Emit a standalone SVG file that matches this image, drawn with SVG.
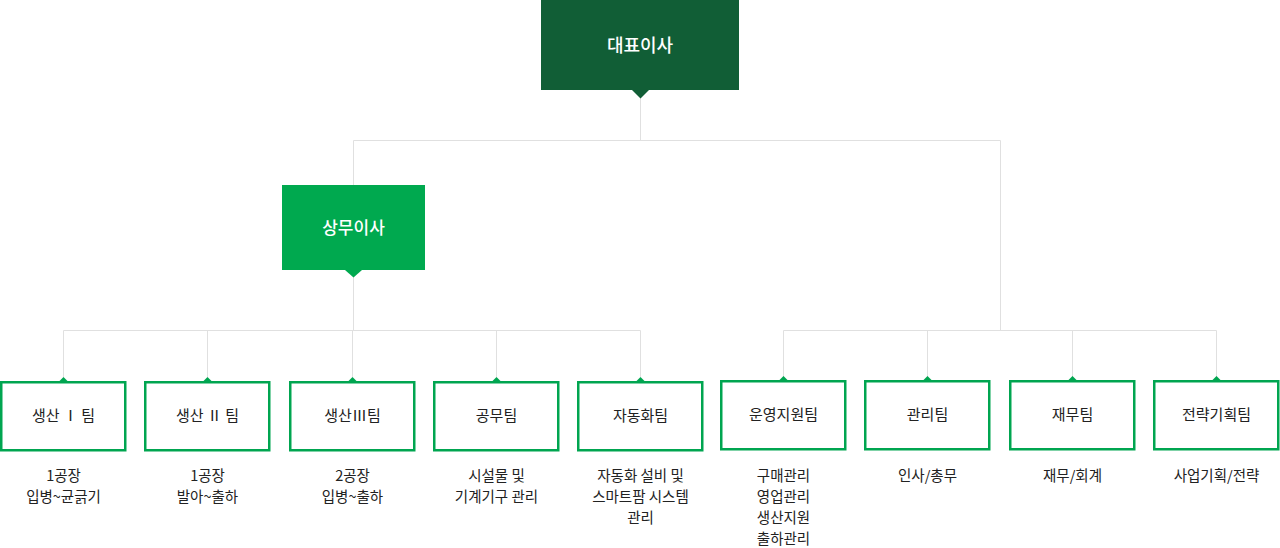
<svg xmlns="http://www.w3.org/2000/svg" width="1280" height="548" viewBox="0 0 1280 548">
<style>
text{font-family:"Noto Sans CJK KR","Noto Sans",sans-serif;text-anchor:middle}
.ln{stroke:#e0e0e0;stroke-width:1;fill:none}
.team rect{fill:#fff;stroke:#00a550;stroke-width:2.5}
.team path{fill:#00a550}
.tl{font-size:15px;fill:#222}
.ds{font-size:14.5px;fill:#222}
.exec{font-size:18px;fill:#fff;font-weight:500}
</style>
<rect width="1280" height="548" fill="#fff"/>
<g id="connectors">
<path class="ln" d="M640.5 98V140.5M353.5 140.5H1000.5M353.5 140.5V185M1000.5 140.5V330.5M353.5 277V330.5M63.5 330.5H640.5M783.5 330.5H1216.5"/>
<path class="ln" d="M63.5 330.5V377M207.5 330.5V377M352.5 330.5V377M496.5 330.5V377M640.5 330.5V377M783.5 330.5V377M927.5 330.5V377M1072.5 330.5V377M1216.5 330.5V377"/>
</g>
<g id="ceo">
<rect x="541" y="0" width="198" height="90" fill="#115e36"/>
<path d="M632 90L640.5 98.5L649 90Z" fill="#115e36"/>
<text class="exec" x="640" y="51.5">대표이사</text>
</g>
<g id="managing-director">
<rect x="282" y="185" width="143" height="85" fill="#00a94f"/>
<path d="M345 270L353.5 277.5L362 270Z" fill="#00a94f"/>
<text class="exec" x="353.5" y="234" style="font-size:17px">상무이사</text>
</g>
<g id="team1" class="team"><rect x="1.25" y="382.25" width="124" height="68"/><path d="M59.5 381L63.5 377L67.5 381Z"/><text class="tl" x="63.5" y="421">생산 Ⅰ 팀</text>
<text class="ds" x="63.5" y="481">1공장</text><text class="ds" x="63.5" y="502">입병~균긁기</text></g>
<g id="team2" class="team"><rect x="145.25" y="382.25" width="124" height="68"/><path d="M203.5 381L207.5 377L211.5 381Z"/><text class="tl" x="207.5" y="421">생산 Ⅱ 팀</text>
<text class="ds" x="207.5" y="481">1공장</text><text class="ds" x="207.5" y="502">발아~출하</text></g>
<g id="team3" class="team"><rect x="290.25" y="382.25" width="124" height="68"/><path d="M348.5 381L352.5 377L356.5 381Z"/><text class="tl" x="352.5" y="421">생산Ⅲ팀</text>
<text class="ds" x="352.5" y="481">2공장</text><text class="ds" x="352.5" y="502">입병~출하</text></g>
<g id="team4" class="team"><rect x="434.25" y="382.25" width="124" height="68"/><path d="M492.5 381L496.5 377L500.5 381Z"/><text class="tl" x="496.5" y="421">공무팀</text>
<text class="ds" x="496.5" y="481">시설물 및</text><text class="ds" x="496.5" y="502">기계기구 관리</text></g>
<g id="team5" class="team"><rect x="578.25" y="382.25" width="124" height="68"/><path d="M636.5 381L640.5 377L644.5 381Z"/><text class="tl" x="640.5" y="421">자동화팀</text>
<text class="ds" x="640.5" y="481">자동화 설비 및</text><text class="ds" x="640.5" y="502">스마트팜 시스템</text><text class="ds" x="640.5" y="523">관리</text></g>
<g id="team6" class="team"><rect x="721.25" y="381.25" width="124" height="68"/><path d="M779.5 380L783.5 376L787.5 380Z"/><text class="tl" x="783.5" y="420">운영지원팀</text>
<text class="ds" x="783.5" y="481">구매관리</text><text class="ds" x="783.5" y="502">영업관리</text><text class="ds" x="783.5" y="523">생산지원</text><text class="ds" x="783.5" y="544">출하관리</text></g>
<g id="team7" class="team"><rect x="865.25" y="381.25" width="124" height="68"/><path d="M923.5 380L927.5 376L931.5 380Z"/><text class="tl" x="927.5" y="420">관리팀</text>
<text class="ds" x="927.5" y="481">인사/총무</text></g>
<g id="team8" class="team"><rect x="1010.25" y="381.25" width="124" height="68"/><path d="M1068.5 380L1072.5 376L1076.5 380Z"/><text class="tl" x="1072.5" y="420">재무팀</text>
<text class="ds" x="1072.5" y="481">재무/회계</text></g>
<g id="team9" class="team"><rect x="1154.25" y="381.25" width="124" height="68"/><path d="M1212.5 380L1216.5 376L1220.5 380Z"/><text class="tl" x="1216.5" y="420">전략기획팀</text>
<text class="ds" x="1216.5" y="481">사업기획/전략</text></g>
</svg>
